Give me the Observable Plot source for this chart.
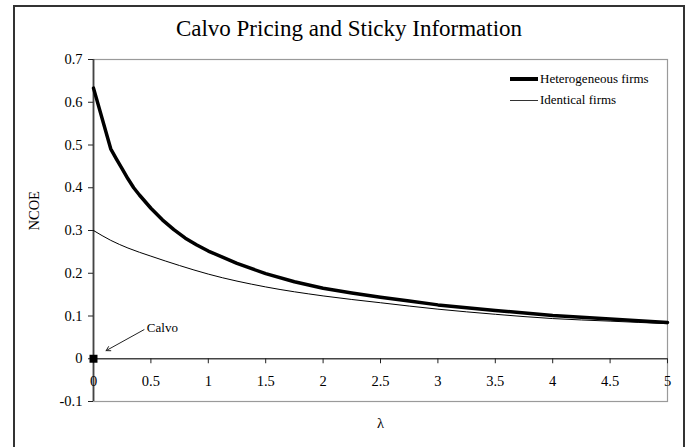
<!DOCTYPE html>
<html>
<head>
<meta charset="utf-8">
<script src="https://cdn.jsdelivr.net/npm/d3@7"></script>
<script src="https://cdn.jsdelivr.net/npm/@observablehq/plot@0.6"></script>
<style>
  html, body { margin: 0; padding: 0; background: #fff; overflow: hidden; }
  #wrap { position: relative; width: 691px; height: 447px; overflow: hidden; font-family: "Liberation Serif", "Times New Roman", serif; }
  #frame { position: absolute; left: 13px; top: 5px; width: 668px; height: 500px; border: 2px solid #333; box-sizing: content-box; }
  #title { position: absolute; left: 0; width: 698px; top: 16.7px; text-align: center; font-size: 23px; line-height: 23px; color: #000; }
  #chart { position: absolute; left: 0; top: 0; }
  .leg { position: absolute; font-size: 13px; line-height: 13px; color: #000; white-space: nowrap; }
  .legline { position: absolute; background: #000; }
</style>
</head>
<body>
<div id="wrap">
  <div id="frame"></div>
  <div id="chart"></div>
  <div id="title">Calvo Pricing and Sticky Information</div>
  <div class="legline" style="left:510px; top:77.3px; width:28px; height:3.5px;"></div>
  <div class="leg" style="left:540px; top:72.4px;">Heterogeneous firms</div>
  <div class="legline" style="left:510px; top:99.5px; width:28px; height:1px; background:#333;"></div>
  <div class="leg" style="left:540px; top:93.4px;">Identical firms</div>
</div>
<script>
// ---- data ----
const lambdaHetero = [0, 0.15, 0.2, 0.25, 0.3, 0.35, 0.4, 0.5, 0.6, 0.7, 0.8, 0.9, 1.0, 1.25, 1.5, 1.75, 2.0, 2.25, 2.5, 2.75, 3.0, 3.5, 4.0, 4.5, 5.0];
const ncoeHetero   = [0.633, 0.491, 0.467, 0.444, 0.421, 0.400, 0.383, 0.352, 0.325, 0.302, 0.282, 0.266, 0.252, 0.223, 0.199, 0.180, 0.165, 0.154, 0.144, 0.135, 0.126, 0.113, 0.101, 0.093, 0.085];
const lambdaIdent  = [0, 0.15, 0.3, 0.5, 0.75, 1.0, 1.5, 2.0, 2.5, 3.0, 3.5, 4.0, 4.5, 5.0];
const ncoeIdent    = [0.300, 0.277, 0.259, 0.240, 0.218, 0.198, 0.168, 0.147, 0.131, 0.116, 0.104, 0.094, 0.088, 0.082];
const calvoPoint   = [{lambda: 0, ncoe: 0}];
const calvoLabel   = [{lambda: 0.6, ncoe: 0.073, text: "Calvo"}];
const calvoArrow   = [{x1: 0.44, y1: 0.068, x2: 0.11, y2: 0.019}];
const xTicks = [0, 0.5, 1, 1.5, 2, 2.5, 3, 3.5, 4, 4.5, 5];
const yTicks = [-0.1, 0, 0.1, 0.2, 0.3, 0.4, 0.5, 0.6, 0.7];
const xLabel = "λ";
const yLabel = "NCOE";

const hetero = lambdaHetero.map((x, i) => ({lambda: x, ncoe: ncoeHetero[i]}));
const ident  = lambdaIdent.map((x, i) => ({lambda: x, ncoe: ncoeIdent[i]}));

const W = 691, H = 447;
const mT = 59, mB = 46, mL = 93, mR = 24;
const yDomain = [-0.1, 0.7];
const innerH = H - mT - mB;
const zeroOffset = (0 - yDomain[0]) / (yDomain[1] - yDomain[0]) * innerH;
const fmt = d => String(+d.toFixed(1));

const chart = Plot.plot({
  width: W, height: H,
  marginTop: mT, marginBottom: mB, marginLeft: mL, marginRight: mR,
  x: {domain: [0, 5]},
  y: {domain: yDomain},
  style: {background: "transparent", fontFamily: "'Liberation Serif', 'Times New Roman', serif", fontSize: "14.5px", color: "#000"},
  marks: [
    Plot.frame({stroke: "#9a9a9a", strokeWidth: 1.2}),
    Plot.ruleY([0], {stroke: "#444", strokeWidth: 1.5}),
    Plot.ruleX([0], {stroke: "#444", strokeWidth: 1.8}),
    Plot.axisY({ticks: yTicks, tickSize: 5, tickPadding: 6, tickFormat: fmt, label: null, stroke: "#222", fill: "#000"}),
    Plot.axisX({ticks: xTicks, tickSize: 5, tickPadding: 12, tickFormat: fmt, label: null, dy: -zeroOffset, stroke: "#222", fill: "#000"}),
    Plot.text([xLabel], {frameAnchor: "bottom", dy: 26, text: d => d, fill: "#000"}),
    Plot.text([yLabel], {frameAnchor: "left", dx: -59, rotate: -90, text: d => d, fill: "#000"}),
    Plot.line(ident, {x: "lambda", y: "ncoe", stroke: "#000", strokeWidth: 1, curve: "monotone-x"}),
    Plot.line(hetero, {x: "lambda", y: "ncoe", stroke: "#000", strokeWidth: 3.5, strokeLinejoin: "round"}),
    Plot.arrow(calvoArrow, {x1: "x1", y1: "y1", x2: "x2", y2: "y2", stroke: "#222", strokeWidth: 1, headLength: 7, bend: 0}),
    Plot.text(calvoLabel, {x: "lambda", y: "ncoe", text: "text", fontSize: 13, fill: "#000"}),
    Plot.dot(calvoPoint, {x: "lambda", y: "ncoe", symbol: "square", r: 4.5, fill: "#000", stroke: null})
  ]
});
document.getElementById("chart").appendChild(chart);
</script>
</body>
</html>
